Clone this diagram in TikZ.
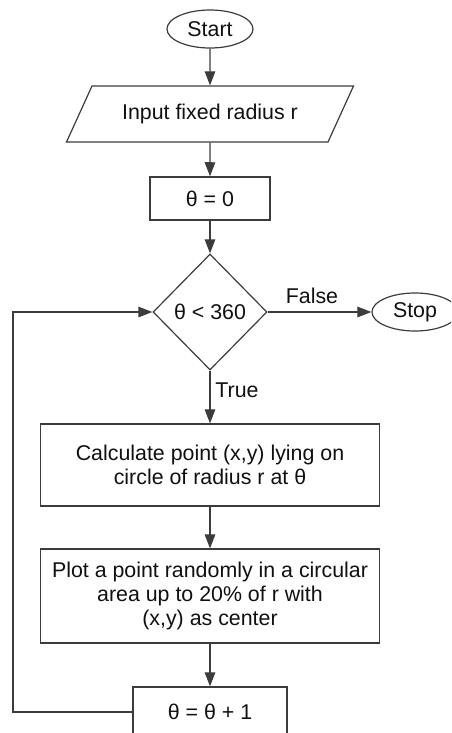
\documentclass[tikz,border=0pt]{standalone}
\usepackage{fontspec}
\setmainfont{Liberation Sans}
\usepackage{xcolor}
\usepackage{tikz}
\usetikzlibrary{shapes.geometric,arrows.meta}
\definecolor{stroke}{HTML}{3C3C3C}
\definecolor{ink}{HTML}{101010}
\tikzset{
  base/.style={draw=stroke, line width=0.85pt, text=ink, font=\fontsize{15.2}{17.1}\selectfont},
  term/.style={base, ellipse, minimum width=2.15cm, minimum height=0.95cm, inner sep=0pt},
  io/.style={base, trapezium, trapezium left angle=38, trapezium right angle=142,
    trapezium stretches body, minimum width=7.175cm, minimum height=1.4cm, inner sep=0pt},
  proc/.style={base, rectangle, align=center, inner sep=0pt},
  cond/.style={base, diamond, minimum width=2.85cm, minimum height=2.9cm, inner sep=0pt},
  flow/.style={draw=stroke, line width=0.85pt, -{Triangle[length=10pt,width=7.5pt]}},
  lab/.style={text=ink, font=\fontsize{15.2}{17.1}\selectfont}
}

\begin{document}
\begin{tikzpicture}
  \useasboundingbox (0,0) rectangle (11.275,-18.325);
  \clip (0,0) rectangle (11.275,-18.325);

  \node[term] (start) at (5.25,-0.725) {Start};
  \node[io] (input) at (5.25,-2.85) {Input fixed radius r};
  \node[proc, minimum width=3.0cm, minimum height=1.075cm] (init) at (5.25,-4.96) {θ = 0};
  \node[cond] (test) at (5.25,-7.8) {θ < 360};
  \node[term] (stop) at (10.375,-7.8) {Stop};
  \node[proc, minimum width=8.475cm, minimum height=2.05cm] (calc) at (5.25,-11.625)
    {Calculate point (x,y) lying on\\circle of radius r at θ};
  \node[proc, minimum width=8.475cm, minimum height=2.35cm] (plot) at (5.25,-14.9)
    {Plot a point randomly in a circular\\area up to 20\% of r with\\(x,y) as center};
  \node[proc, minimum width=3.85cm, minimum height=1.25cm] (incr) at (5.25,-17.8) {θ = θ + 1};
  \coordinate (back) at (0.325,-17.8);

  \draw[flow] (start) -- (input);
  \draw[flow] (input) -- (init);
  \draw[flow] (init) -- (test);
  \draw[flow] (test) -- (stop);
  \draw[flow] (test) -- (calc);
  \draw[flow] (calc) -- (plot);
  \draw[flow] (plot) -- (incr);
  \draw[flow] (incr) -- (back) |- (test);

  \node[lab] (no) at (7.8,-7.4) {False};
  \node[lab] (yes) at (5.925,-9.75) {True};
\end{tikzpicture}
\end{document}
